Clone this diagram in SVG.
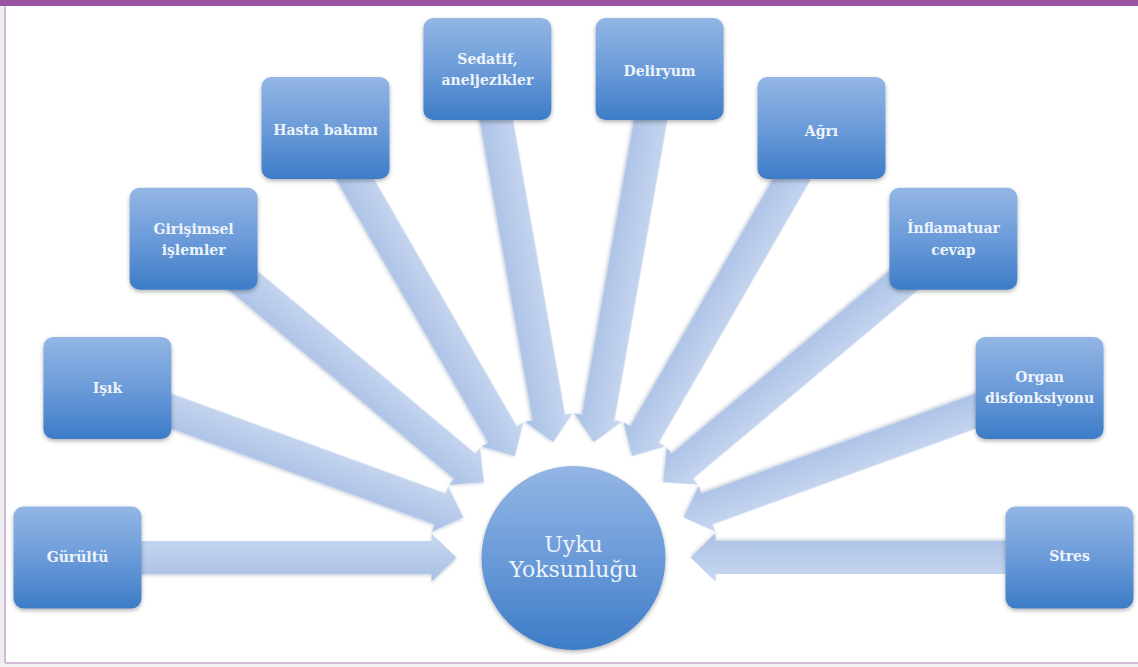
<svg xmlns="http://www.w3.org/2000/svg" xmlns:xlink="http://www.w3.org/1999/xlink" width="1138" height="667" viewBox="0 0 1138 667">
<defs>
<linearGradient id="boxg" x1="0" y1="0" x2="0" y2="1">
<stop offset="0" stop-color="#93B6E4"/>
<stop offset="0.5" stop-color="#6B9BD9"/>
<stop offset="1" stop-color="#3D7CC7"/>
</linearGradient>
<linearGradient id="arrg" x1="0" y1="0" x2="0" y2="1">
<stop offset="0" stop-color="#C9D8F0"/>
<stop offset="1" stop-color="#A9C0E5"/>
</linearGradient>
<filter id="sh" x="-20%" y="-20%" width="140%" height="150%">
<feDropShadow dx="0" dy="2" stdDeviation="2" flood-color="#000" flood-opacity="0.3"/>
</filter>
<filter id="ash" x="-10%" y="-30%" width="120%" height="160%">
<feDropShadow dx="0" dy="2" stdDeviation="1.5" flood-color="#56708f" flood-opacity="0.25"/>
</filter>
<path id="arw" d="M-496,-16.5 H-142 V-24 L-117,0 L-142,24 V16.5 H-496 Z"/>
</defs>
<style>
.box{fill:url(#boxg);filter:url(#sh);}
.arr{fill:url(#arrg);filter:url(#ash);}
.lbl{font-family:"DejaVu Serif","Liberation Serif",serif;font-weight:bold;font-size:14px;fill:#EEF3FB;text-anchor:middle;}
.ctr{font-family:"DejaVu Serif","Liberation Serif",serif;font-size:22px;fill:#EEF3FB;text-anchor:middle;}
</style>
<rect x="0" y="0" width="1138" height="667" fill="#ffffff"/>
<rect x="0" y="0" width="4" height="667" fill="#EEEEEE"/>
<rect x="0" y="0" width="1138" height="6" fill="#9A53A0"/>
<line x1="5" y1="6" x2="5" y2="663" stroke="#C9A3CD" stroke-width="1.5"/>
<line x1="5" y1="663" x2="1138" y2="663" stroke="#C9A3CD" stroke-width="1.5"/>
<rect x="0" y="664" width="1138" height="3" fill="#F2F2F2"/>

<g id="connectors">
<g transform="translate(573.5 557.5)">
<use xlink:href="#arw" class="arr" transform="rotate(0)"/>
<use xlink:href="#arw" class="arr" transform="rotate(20)"/>
<use xlink:href="#arw" class="arr" transform="rotate(40)"/>
<use xlink:href="#arw" class="arr" transform="rotate(60)"/>
<use xlink:href="#arw" class="arr" transform="rotate(80)"/>
<use xlink:href="#arw" class="arr" transform="rotate(100)"/>
<use xlink:href="#arw" class="arr" transform="rotate(120)"/>
<use xlink:href="#arw" class="arr" transform="rotate(140)"/>
<use xlink:href="#arw" class="arr" transform="rotate(160)"/>
<use xlink:href="#arw" class="arr" transform="rotate(180)"/>
</g>
</g>

<g id="n-gurultu"><rect class="box" x="13.5" y="506.5" width="128" height="102" rx="10"/><text class="lbl" x="77.5" y="562">Gürültü</text></g>
<g id="n-isik"><rect class="box" x="43.4" y="336.9" width="128" height="102" rx="10"/><text class="lbl" x="107.4" y="393">Işık</text></g>
<g id="n-girisimsel"><rect class="box" x="129.6" y="187.7" width="128" height="102" rx="10"/><text class="lbl" x="193.6" y="234">Girişimsel</text><text class="lbl" x="193.6" y="255">işlemler</text></g>
<g id="n-hasta"><rect class="box" x="261.5" y="76.9" width="128" height="102" rx="10"/><text class="lbl" x="325.5" y="135">Hasta bakımı</text></g>
<g id="n-sedatif"><rect class="box" x="423.4" y="18" width="128" height="102" rx="10"/><text class="lbl" x="487.4" y="64">Sedatif,</text><text class="lbl" x="487.4" y="85">aneljezikler</text></g>
<g id="n-deliryum"><rect class="box" x="595.6" y="18" width="128" height="102" rx="10"/><text class="lbl" x="659.6" y="76">Deliryum</text></g>
<g id="n-agri"><rect class="box" x="757.5" y="76.9" width="128" height="102" rx="10"/><text class="lbl" x="821.5" y="136">Ağrı</text></g>
<g id="n-inflamatuar"><rect class="box" x="889.4" y="187.7" width="128" height="102" rx="10"/><text class="lbl" x="953.4" y="233">İnflamatuar</text><text class="lbl" x="953.4" y="255">cevap</text></g>
<g id="n-organ"><rect class="box" x="975.6" y="336.9" width="128" height="102" rx="10"/><text class="lbl" x="1039.6" y="382">Organ</text><text class="lbl" x="1039.6" y="403">disfonksiyonu</text></g>
<g id="n-stres"><rect class="box" x="1005.5" y="506.5" width="128" height="102" rx="10"/><text class="lbl" x="1069.5" y="561">Stres</text></g>

<g id="n-center"><circle class="box" cx="573.5" cy="558" r="92"/><text class="ctr" x="573.5" y="552">Uyku</text><text class="ctr" x="573.5" y="577">Yoksunluğu</text></g>
</svg>
